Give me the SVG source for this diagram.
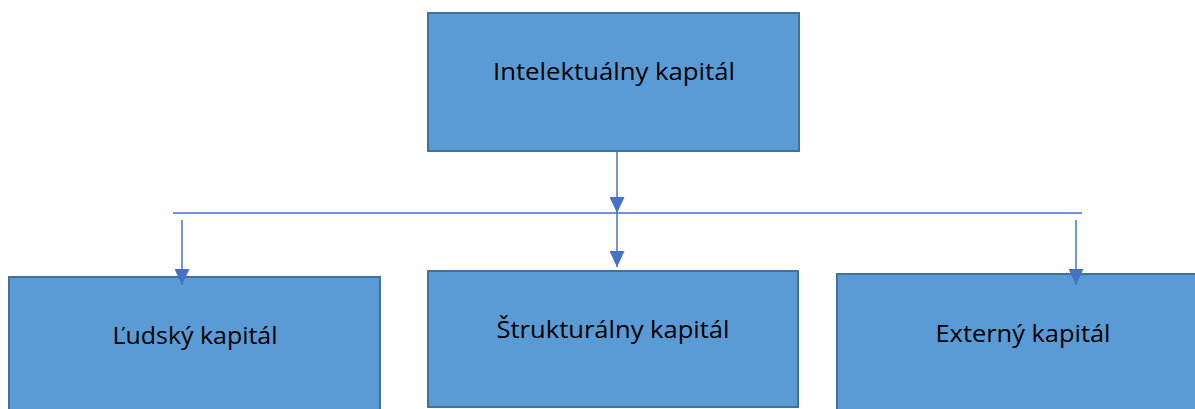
<svg xmlns="http://www.w3.org/2000/svg" width="1195" height="409" viewBox="0 0 1195 409">
  <style>
    .box { fill: #5B9BD5; stroke: #41719C; stroke-width: 2; }
    .label { font-family: "Open Sans", "Noto Sans", "Liberation Sans", sans-serif; font-size: 23px; fill: #000; text-anchor: middle; }
    .wire { stroke: #4472C4; stroke-width: 1.5; fill: none; }
  </style>
  <defs>
    <marker id="arrow" viewBox="0 0 16 15" refX="16" refY="7.5" markerWidth="16" markerHeight="15" markerUnits="userSpaceOnUse" orient="auto">
      <path d="M0,0 L16,7.5 L0,15 Z" fill="#4472C4"/>
    </marker>
  </defs>

  <g id="connectors">
    <line class="wire" x1="617" y1="151" x2="617" y2="213" marker-end="url(#arrow)"/>
    <line class="wire" x1="173" y1="213" x2="1082" y2="213"/>
    <line class="wire" x1="617" y1="213" x2="617" y2="267" marker-end="url(#arrow)"/>
  </g>

  <g id="node-intelektualny">
    <rect class="box" x="428" y="13" width="371" height="138"/>
    <text class="label" x="614" y="80" textLength="242" lengthAdjust="spacingAndGlyphs">Intelektuálny kapitál</text>
  </g>

  <g id="node-ludsky">
    <rect class="box" x="9" y="277" width="371" height="140"/>
    <text class="label" x="195" y="344" textLength="165" lengthAdjust="spacingAndGlyphs">Ľudský kapitál</text>
  </g>

  <g id="node-strukturalny">
    <rect class="box" x="428" y="271" width="370" height="136"/>
    <text class="label" x="613" y="338" textLength="233" lengthAdjust="spacingAndGlyphs">Štrukturálny kapitál</text>
  </g>

  <g id="node-externy">
    <rect class="box" x="837" y="274" width="372" height="143"/>
    <text class="label" x="1023" y="342" textLength="175" lengthAdjust="spacingAndGlyphs">Externý kapitál</text>
  </g>

  <g id="connectors-top">
    <line class="wire" x1="182" y1="220" x2="182" y2="285" marker-end="url(#arrow)"/>
    <line class="wire" x1="1076" y1="220" x2="1076" y2="285" marker-end="url(#arrow)"/>
  </g>
</svg>
